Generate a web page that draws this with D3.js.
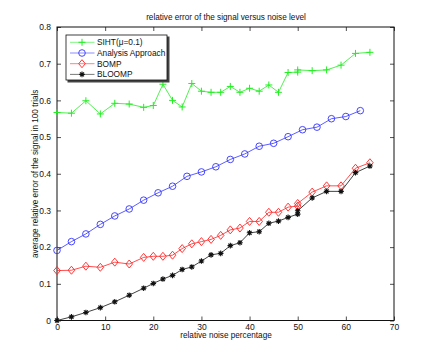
<!DOCTYPE html>
<html lang="en">
<head>
  <meta charset="UTF-8" />
  <title>relative error of the signal versus noise level</title>
  <script src="https://d3js.org/d3.v7.min.js"></script>
  <style>
    body { margin: 0; background: #fff; }
    svg { display: block; font-family: 'Liberation Sans', Arial, sans-serif; }
    .tick text { font-size: 8.5px; fill: #111; }
  </style>
</head>
<body>
<div id="chart"></div>
<script>
// noise levels for SIHT / BOMP / BLOOMP (two runs at 50)
const noiseX = [0, 3, 6, 9, 12, 15, 18, 20, 22, 24, 26, 28, 30, 32, 34, 36, 38,
  40, 42, 44, 46, 48, 50, 50, 53, 56, 59, 62, 65];
// noise levels for the analysis approach
const analysisX = [0, 3, 6, 9, 12, 15, 18, 21, 24, 27, 30, 33, 36, 39, 42, 45,
  48, 51, 54, 57, 60, 63];

const sihtY = [0.567, 0.565, 0.599, 0.563, 0.592, 0.590, 0.581, 0.586, 0.644, 0.600,
  0.582, 0.646, 0.625, 0.622, 0.622, 0.638, 0.622, 0.633, 0.625, 0.642, 0.622,
  0.676, 0.677, 0.683, 0.681, 0.683, 0.696, 0.728, 0.731];
const analysisY = [0.191, 0.215, 0.236, 0.262, 0.285, 0.304, 0.328, 0.348, 0.366,
  0.393, 0.405, 0.419, 0.439, 0.454, 0.475, 0.483, 0.501, 0.520, 0.527, 0.550,
  0.556, 0.572];
const bompY = [0.136, 0.137, 0.148, 0.145, 0.159, 0.154, 0.172, 0.175, 0.175, 0.178,
  0.196, 0.209, 0.215, 0.221, 0.232, 0.247, 0.252, 0.270, 0.270, 0.295, 0.295,
  0.309, 0.312, 0.319, 0.350, 0.367, 0.367, 0.415, 0.430];
const bloompY = [0.000, 0.010, 0.022, 0.035, 0.051, 0.069, 0.088, 0.101, 0.113, 0.123,
  0.139, 0.146, 0.162, 0.179, 0.183, 0.204, 0.212, 0.239, 0.242, 0.265, 0.271,
  0.281, 0.290, 0.299, 0.334, 0.352, 0.352, 0.403, 0.421];

const xTicks = [0, 10, 20, 30, 40, 50, 60, 70];
const yTicks = [0, 0.1, 0.2, 0.3, 0.4, 0.5, 0.6, 0.7, 0.8];

const series = [
  { name: "SIHT(\u03bc=0.1)", xs: noiseX, ys: sihtY, color: "#22ee22", marker: "plus" },
  { name: "Analysis Approach", xs: analysisX, ys: analysisY, color: "#3333ff", marker: "circle" },
  { name: "BOMP", xs: noiseX, ys: bompY, color: "#ff2222", marker: "diamond" },
  { name: "BLOOMP", xs: noiseX, ys: bloompY, color: "#111111", marker: "star" }
];

const W = 436, H = 361;
const margin = { top: 27, right: 42, bottom: 40.5, left: 57 };
const width = W - margin.left - margin.right,
      height = H - margin.top - margin.bottom;

const svg = d3.select("#chart").append("svg")
  .attr("width", W).attr("height", H);

const g = svg.append("g")
  .attr("transform", `translate(${margin.left},${margin.top})`);

const x = d3.scaleLinear().domain([0, 70]).range([0, width]);
const y = d3.scaleLinear().domain([0, 0.8]).range([height, 0]);

// axes, ticks inward on all sides
const fmtY = d => d === 0 ? "0" : d3.format(".1f")(d);
g.append("g").attr("transform", `translate(0,${height})`)
  .call(d3.axisBottom(x).tickValues(xTicks).tickSize(-4).tickPadding(3.5));
g.append("g")
  .call(d3.axisLeft(y).tickValues(yTicks).tickFormat(fmtY).tickSize(-4).tickPadding(6));
g.append("g")
  .call(d3.axisTop(x).tickValues(xTicks).tickSize(-4).tickFormat(""));
g.append("g").attr("transform", `translate(${width},0)`)
  .call(d3.axisRight(y).tickValues(yTicks).tickSize(-4).tickFormat(""));
g.selectAll(".domain").remove();
g.selectAll(".tick line").attr("stroke", "#222").attr("stroke-width", 0.8);

g.append("rect")
  .attr("width", width).attr("height", height)
  .attr("fill", "none").attr("stroke", "#111").attr("stroke-width", 1);

function drawMarker(sel, type, color) {
  if (type === "plus") {
    sel.append("path").attr("d", "M-3.5,0H3.5M0,-3.5V3.5")
      .attr("stroke", color).attr("stroke-width", 1).attr("fill", "none");
  } else if (type === "circle") {
    sel.append("circle").attr("r", 3.3)
      .attr("stroke", color).attr("stroke-width", 0.9).attr("fill", "none");
  } else if (type === "diamond") {
    sel.append("path").attr("d", "M0,-4L3.3,0L0,4L-3.3,0Z")
      .attr("stroke", color).attr("stroke-width", 0.9).attr("fill", "none");
  } else {
    sel.append("path").attr("d", "M-2.8,0H2.8M0,-2.8V2.8M-2,-2L2,2M-2,2L2,-2")
      .attr("stroke", color).attr("stroke-width", 1.1).attr("fill", "none");
  }
}

const line = d3.line().x(d => x(d[0])).y(d => y(d[1]));

series.forEach(s => {
  const pts = s.xs.map((v, i) => [v, s.ys[i]]);
  g.append("path").datum(pts)
    .attr("d", line)
    .attr("fill", "none")
    .attr("stroke", s.color)
    .attr("stroke-width", 0.8);
  g.selectAll(null).data(pts).enter().append("g")
    .attr("transform", d => `translate(${x(d[0])},${y(d[1])})`)
    .each(function () { drawMarker(d3.select(this), s.marker, s.color); });
});

// legend
const leg = svg.append("g").attr("transform", "translate(66,35)");
leg.append("rect").attr("x", 1.5).attr("y", 1.5).attr("width", 102).attr("height", 46)
  .attr("fill", "#444");
leg.append("rect").attr("width", 101).attr("height", 45)
  .attr("fill", "#fff").attr("stroke", "#111").attr("stroke-width", 0.8);
series.forEach((s, i) => {
  const row = leg.append("g").attr("transform", `translate(0,${7.3 + i * 10.7})`);
  row.append("line").attr("x1", 4).attr("x2", 28.5)
    .attr("stroke", s.color).attr("stroke-width", 0.8).attr("opacity", 0.7);
  drawMarker(row.append("g").attr("transform", "translate(16,0)"), s.marker, s.color);
  row.append("text").attr("x", 31).attr("y", 3)
    .attr("font-size", 8.3).attr("fill", "#111").text(s.name);
});

// titles
svg.append("text").attr("x", 226).attr("y", 20)
  .attr("text-anchor", "middle").attr("font-size", 8.2).attr("fill", "#111")
  .text("relative error of the signal versus noise level");
svg.append("text").attr("x", 226).attr("y", 337.5)
  .attr("text-anchor", "middle").attr("font-size", 8.2).attr("fill", "#111")
  .text("relative noise percentage");
svg.append("text")
  .attr("transform", `translate(37.5,${margin.top + height / 2}) rotate(-90)`)
  .attr("text-anchor", "middle").attr("font-size", 8.2).attr("fill", "#111")
  .text("average relative error of the signal in 100 trials");
</script>
</body>
</html>
